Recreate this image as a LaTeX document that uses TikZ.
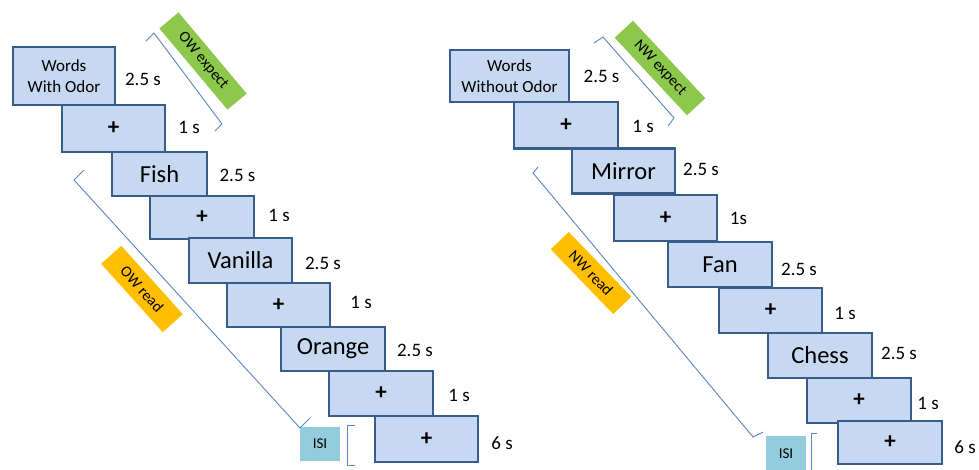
\documentclass[tikz,border=0pt]{standalone}
\usepackage{fontspec}
\setmainfont{Carlito}
\definecolor{boxfill}{HTML}{C6D9F1}
\definecolor{boxline}{HTML}{385D8A}
\definecolor{brk}{HTML}{5B86C0}
\definecolor{greenlab}{HTML}{8CC84B}
\definecolor{orangelab}{HTML}{FFBF00}
\definecolor{isicol}{HTML}{93CDDD}
\begin{document}
\begin{tikzpicture}[x=1pt,y=-1pt,
  stim/.style={draw=boxline,fill=boxfill,line width=2.9pt,inner sep=0pt,align=center},
  big/.style={font=\fontsize{24.5}{27}\selectfont},
  plus/.style={font=\fontsize{23}{25}\selectfont\bfseries},
  small/.style={font=\fontsize{17}{20.5}\selectfont},
  dur/.style={font=\fontsize{19}{21}\selectfont,inner sep=0pt},
  tag/.style={inner sep=0pt,minimum width=106pt,minimum height=25pt,font=\fontsize{15.5}{17}\selectfont},
  isi/.style={fill=isicol,inner sep=0pt,minimum width=40pt,font=\fontsize{15}{17}\selectfont},
  brace/.style={draw=brk,line width=0.9pt}]
\useasboundingbox (0,0) rectangle (979,469);
% ---------- left ----------
\node[stim,small,minimum width=102pt,minimum height=58pt] (L1) at (64,76) {Words\\With Odor};
\node[stim,plus,minimum width=103pt,minimum height=47pt] (L2) at (113.5,128.5) {+};
\node[stim,big,minimum width=95pt,minimum height=44pt] (L3) at (159.5,174) {Fish};
\node[stim,plus,minimum width=104pt,minimum height=43pt] (L4) at (202,217.5) {+};
\node[stim,big,minimum width=103pt,minimum height=45pt] (L5) at (240.5,260.5) {Vanilla};
\node[stim,plus,minimum width=103pt,minimum height=44pt] (L6) at (278.5,305) {+};
\node[stim,big,minimum width=104pt,minimum height=44pt] (L7) at (333,349) {Orange};
\node[stim,plus,minimum width=104pt,minimum height=45pt] (L8) at (381,393.5) {+};
\node[stim,plus,minimum width=103pt,minimum height=46pt] (L9) at (426.5,439) {+};
\node[dur] (tl1) at (143,79) {2.5 s};
\node[dur] (tl2) at (189,127) {1 s};
\node[dur] (tl3) at (237.5,175) {2.5 s};
\node[dur] (tl4) at (279,215) {1 s};
\node[dur] (tl5) at (323,263) {2.5 s};
\node[dur] (tl6) at (361,302) {1 s};
\node[dur] (tl7) at (415,350) {2.5 s};
\node[dur] (tl8) at (459,395) {1 s};
\node[dur] (tl9) at (502,443) {6 s};
\node[tag,fill=greenlab,rotate=-50] (owe) at (203,61) {OW expect};
\node[tag,fill=orangelab,rotate=-48,minimum width=92pt,minimum height=27pt] (owr) at (142,289) {OW read};
\node[isi,minimum height=34pt] (isiL) at (320,444) {ISI};
\draw[brace] (146,41) -- (154,33) -- (222,124) -- (215,131);
\draw[brace] (84,170) -- (74,180) -- (300,428) -- (310,418);
\draw[brace] (355,425) -- (347,425) -- (347,465) -- (355,465);
% ---------- right ----------
\node[stim,small,minimum width=119pt,minimum height=52pt] (R1) at (509.5,76) {Words\\Without Odor};
\node[stim,plus,minimum width=104pt,minimum height=46.5pt] (R2) at (566,125.25) {+};
\node[stim,big,minimum width=103pt,minimum height=44.5pt] (R3) at (623.5,171) {Mirror};
\node[stim,plus,minimum width=103pt,minimum height=46pt] (R4) at (665.5,218) {+};
\node[stim,big,minimum width=104pt,minimum height=45pt] (R5) at (720,264.5) {Fan};
\node[stim,plus,minimum width=103pt,minimum height=45pt] (R6) at (770.5,310.5) {+};
\node[stim,big,minimum width=104pt,minimum height=45pt] (R7) at (820,355.5) {Chess};
\node[stim,plus,minimum width=104pt,minimum height=45pt] (R8) at (859,400.5) {+};
\node[stim,plus,minimum width=104pt,minimum height=43pt] (R9) at (890,442.5) {+};
\node[dur] (tr1) at (601.5,76) {2.5 s};
\node[dur] (tr2) at (643,126) {1 s};
\node[dur] (tr3) at (701,169) {2.5 s};
\node[dur] (tr4) at (738.5,218) {1s};
\node[dur] (tr5) at (799,269) {2.5 s};
\node[dur] (tr6) at (845,313) {1 s};
\node[dur] (tr7) at (899,353) {2.5 s};
\node[dur] (tr8) at (928,403) {1 s};
\node[dur] (tr9) at (965,447) {6 s};
\node[tag,fill=greenlab,rotate=-47] (nwe) at (660,68) {NW expect};
\node[tag,fill=orangelab,rotate=-46,minimum width=90pt,minimum height=25pt] (nwr) at (591,273) {NW read};
\node[isi,minimum height=36pt] (isiR) at (786,454) {ISI};
\draw[brace] (594,43) -- (603,37) -- (674,118) -- (668,126);
\draw[brace] (538,167) -- (533,173) -- (753,437) -- (763,432);
\draw[brace] (817,433) -- (811,433) -- (811,475);
\end{tikzpicture}
\end{document}
